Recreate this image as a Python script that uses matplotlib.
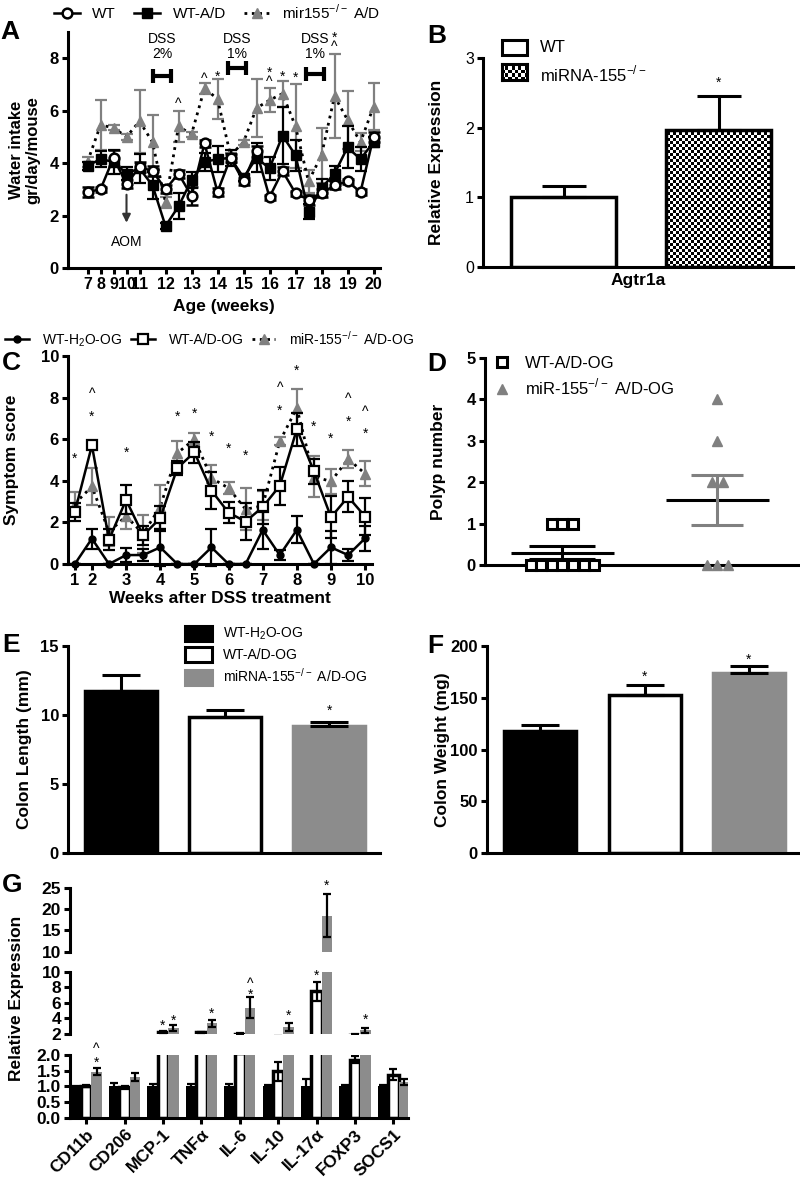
import numpy as np
import matplotlib
matplotlib.use("Agg")
import matplotlib.pyplot as plt
from matplotlib.lines import Line2D
from matplotlib.patches import Patch, Rectangle

plt.rcParams["font.family"] = ["Liberation Sans", "DejaVu Sans"]
plt.rcParams["mathtext.fontset"] = "custom"
plt.rcParams["mathtext.rm"] = "Liberation Sans"
plt.rcParams["mathtext.bf"] = "Liberation Sans:bold"

# ---- data ----------------------------------------------------------------
# A: water intake
ages_a = [7, 8, 9, 10, 11, 11.5, 12, 12.5, 13, 13.5, 14, 14.5, 15, 15.5, 16,
          16.5, 17, 17.5, 18, 18.5, 19, 19.5, 20]
wt_a = [2.9, 3.0, 4.2, 3.2, 3.85, 3.7, 3.0, 3.6, 2.75, 4.75, 2.9, 4.2, 3.3,
        4.45, 2.7, 3.7, 2.85, 2.6, 2.85, 3.15, 3.3, 2.9, 5.0]
wt_a_err = [0.2, 0.1, 0.3, 0.15, 0.2, 0.2, 0.15, 0.15, 0.35, 0.15, 0.15, 0.15,
            0.15, 0.2, 0.1, 0.15, 0.1, 0.2, 0.15, 0.15, 0.1, 0.1, 0.2]
wtad_a = [3.9, 4.15, 4.05, 3.6, 3.8, 3.15, 1.6, 2.35, 3.35, 4.05, 4.15, 4.2,
          3.45, 4.2, 3.8, 5.05, 4.3, 2.15, 3.05, 3.6, 4.6, 4.15, 4.8]
wtad_a_err = [0.15, 0.3, 0.45, 0.25, 0.55, 0.5, 0.1, 0.5, 0.3, 0.35, 0.5, 0.3,
              0.15, 0.55, 0.45, 1.1, 0.6, 0.3, 0.35, 0.3, 0.8, 0.45, 0.2]
mir_a = [4.05, 5.45, 5.35, 5.0, 5.6, 4.8, 2.5, 5.4, 5.1, 6.85, 6.45, 4.3, 4.8,
         6.1, 6.4, 6.65, 5.4, 3.3, 4.3, 6.55, 5.65, 4.8, 6.15]
mir_a_err = [0.2, 0.95, 0.1, 0.1, 1.2, 1.05, 0.2, 0.6, 0.1, 0.2, 0.75, 0.1, 0.1,
             1.1, 0.45, 0.5, 1.6, 0.45, 1.05, 1.6, 1.1, 0.35, 0.9]
marks_a = [(12.5, 6.4, "^"), (13.5, 7.35, "^"), (14, 7.47, "*"), (16, 7.62, "*"),
           (16, 7.24, "^"), (16.5, 7.47, "*"), (17, 7.43, "*"), (18.5, 8.95, "*"),
           (18.5, 8.57, "^")]

# B: Agtr1a
groups_b = ["WT", r"miRNA-155$^{-/-}$"]
vals_b = [1.0, 1.97]
err_b = [0.16, 0.48]

# C: symptom score
weeks_c = [1, 2, 2.5, 3, 3.5, 4, 4.5, 5, 5.5, 6, 6.5, 7, 7.5, 8, 8.5, 9, 9.5, 10]
h2o_c = [0, 1.22, 0, 0.43, 0.43, 0.8, 0, 0, 0.8, 0, 0, 1.64, 0.43, 1.64, 0, 0.8,
         0.43, 1.24]
h2o_c_err = [0, 0.48, 0, 0.35, 0.3, 0.9, 0, 0, 0.9, 0, 0, 0.9, 0.25, 0.65, 0, 0.8,
             0.3, 0.6]
wtad_c = [2.5, 5.7, 1.17, 3.08, 1.38, 2.2, 4.61, 5.37, 3.53, 2.47, 2.04, 2.74,
          3.76, 6.48, 4.45, 2.25, 3.23, 2.28]
wtad_c_err = [0.45, 0.15, 0.5, 0.7, 0.45, 0.6, 0.35, 0.5, 0.9, 0.5, 0.9, 0.8, 0.9,
              0.8, 0.6, 1.0, 0.75, 0.9]
mir_c = [2.9, 3.73, 1.55, 2.3, 1.45, 2.75, 5.33, 6.0, 4.13, 3.65, 2.63, 2.8, 5.9,
         7.5, 4.2, 3.97, 5.05, 4.34]
mir_c_err = [0.55, 0.9, 0.7, 0.6, 0.9, 1.05, 0.6, 0.3, 0.65, 0.3, 1.0, 0.7, 0.2,
             0.9, 1.0, 0.6, 0.45, 0.6]
marks_c = [(1, 5.25, "*"), (2, 8.39, "^"), (2, 7.28, "*"), (3, 5.54, "*"),
           (4.5, 7.28, "*"), (5, 7.42, "*"), (5.5, 6.31, "*"), (6, 5.73, "*"),
           (6.5, 5.4, "*"), (7.5, 8.67, "^"), (7.5, 7.57, "*"), (8, 9.49, "*"),
           (8.5, 6.8, "*"), (9, 6.22, "*"), (9.5, 8.14, "^"), (9.5, 7.04, "*"),
           (10, 7.52, "^"), (10, 6.46, "*")]

# D: polyp number per mouse
polyps_wt = [1, 1, 1, 0, 0, 0, 0, 0, 0, 0]
polyps_mir = [4, 3, 2, 2, 0, 0, 0]

# E / F: colon length and weight
groups_ef = [r"WT-H$_2$O-OG", "WT-A/D-OG", r"miRNA-155$^{-/-}$ A/D-OG"]
length_e = [11.75, 9.88, 9.22]
length_e_err = [1.15, 0.48, 0.3]
weight_f = [118, 152.5, 174]
weight_f_err = [6, 10, 6.5]

# G: gene expression
genes = ["CD11b", "CD206", "MCP-1", "TNFα", "IL-6", "IL-10", "IL-17α", "FOXP3", "SOCS1"]
g_h2o = [1.0, 1.0, 1.0, 1.0, 1.0, 1.0, 1.0, 1.0, 1.0]
g_h2o_err = [0.02, 0.1, 0.06, 0.08, 0.08, 0.03, 0.22, 0.05, 0.05]
g_wtad = [1.02, 0.97, 2.25, 2.2, 2.05, 1.48, 7.5, 1.85, 1.37]
g_wtad_err = [0.03, 0.05, 0.1, 0.08, 0.03, 0.3, 1.2, 0.12, 0.18]
g_mir = [1.47, 1.3, 2.75, 3.4, 5.4, 2.9, 18.5, 2.45, 1.15]
g_mir_err = [0.1, 0.13, 0.4, 0.45, 1.3, 0.5, 5.0, 0.3, 0.1]
# (gene, bar 0=H2O 1=WT-A/D 2=miR, segment 0=top 1=mid 2=bottom, y, symbol)
marks_g = [(0, 2, 2, 1.9, "*"), (0, 2, 2, 2.32, "^"), (2, 1, 1, 3.6, "*"),
           (2, 2, 1, 4.2, "*"), (3, 2, 1, 5.1, "*"), (4, 2, 1, 7.6, "*"),
           (4, 2, 1, 9.0, "^"), (5, 2, 1, 4.86, "*"), (6, 1, 1, 10.0, "*"),
           (6, 2, 0, 26.5, "*"), (7, 2, 1, 4.4, "*")]

# ---- helpers -------------------------------------------------------------
W, H = 800, 1179
GRAY = "#8c8c8c"
TRI = "#808080"
LW = 2.2
TICK = 12


def box(x0, y0, x1, y1):
    """pixel box (top-left origin) -> figure fraction rect"""
    return [x0 / W, 1 - y1 / H, (x1 - x0) / W, (y1 - y0) / H]


def style(ax, left=True, bottom=True):
    for s in ("top", "right"):
        ax.spines[s].set_visible(False)
    ax.spines["left"].set_visible(left)
    ax.spines["bottom"].set_visible(bottom)
    for s in ("left", "bottom"):
        ax.spines[s].set_linewidth(LW)
    ax.tick_params(width=LW, length=4.5, pad=2)


def yticks(ax, ticks, fmt="{:g}", bold=True, size=TICK):
    ax.set_yticks(ticks, [fmt.format(t) for t in ticks],
                  fontweight="bold" if bold else "normal", fontsize=size)


def mark(ax, x, y, s, size=10):
    ax.annotate(s, (x, y), xytext=(0, -3), textcoords="offset points",
                ha="center", va="center", fontsize=size, annotation_clip=False)


def swarm(vals, step):
    vals = np.asarray(vals, float)
    off = np.zeros_like(vals)
    for v in np.unique(vals):
        idx = np.where(vals == v)[0]
        off[idx] = (np.arange(len(idx)) - (len(idx) - 1) / 2) * step
    return off


def letter(x, y, s):
    fig.text(x / W, 1 - y / H, s, fontsize=19, fontweight="bold", ha="center", va="center")


fig = plt.figure(figsize=(W / 100, H / 100), dpi=100)

# ---- A -------------------------------------------------------------------
ax = fig.add_axes(box(68, 32, 380, 268))
style(ax)
xa = np.arange(len(ages_a))
ax.errorbar(xa, mir_a, yerr=mir_a_err, fmt=":^", color="black", lw=2, ms=7,
            mfc=TRI, mec=TRI, ecolor=TRI, elinewidth=1.6, capsize=4, capthick=1.6, zorder=2)
ax.errorbar(xa, wtad_a, yerr=wtad_a_err, fmt="-s", color="black", lw=1.8, ms=6.5,
            elinewidth=1.6, capsize=4, capthick=1.6, zorder=3)
ax.errorbar(xa, wt_a, yerr=wt_a_err, fmt="-o", color="black", lw=1.8, ms=7, mfc="white",
            mew=1.8, elinewidth=1.6, capsize=4, capthick=1.6, zorder=4)
ax.set_xlim(-1.5, 22.5)
ax.set_ylim(0, 9)
yticks(ax, [0, 2, 4, 6, 8])
ta = [i for i, a in enumerate(ages_a) if a == int(a)]
ax.set_xticks(ta, [str(int(ages_a[i])) for i in ta], fontweight="bold", fontsize=11.5)
ax.set_xlabel("Age (weeks)", fontsize=12.5, fontweight="bold")
ax.xaxis.set_label_coords(0.5, -0.13)
ax.set_ylabel("Water intake\ngr/day/mouse", fontsize=12, fontweight="bold", linespacing=1.1)
ax.yaxis.set_label_coords(-0.09, 0.5)
for txt, xc, half, yb in [("DSS\n2%", 5.75, 0.7, 7.31), ("DSS\n1%", 11.5, 0.7, 7.62),
                          ("DSS\n1%", 17.5, 0.7, 7.39)]:
    ax.text(xc, 8.45, txt, ha="center", va="center", fontsize=10, linespacing=1.1)
    ax.errorbar(xc, yb, xerr=half, fmt="none", ecolor="black", elinewidth=3,
                capsize=5, capthick=3)
aom = ages_a.index(10)
ax.annotate("", xy=(aom, 1.62), xytext=(aom, 2.9),
            arrowprops=dict(arrowstyle="-|>", color="#333333", lw=1.5, mutation_scale=12))
ax.text(aom, 1.0, "AOM", ha="center", va="center", fontsize=10)
for age, yv, s in marks_a:
    mark(ax, ages_a.index(age), yv, s)
fig.legend([Line2D([], [], color="black", marker="o", mfc="white", ms=7, mew=1.8, lw=1.8),
            Line2D([], [], color="black", marker="s", ms=6.5, lw=1.8),
            Line2D([], [], color="black", ls=":", marker="^", mfc=TRI, mec=TRI, ms=7, lw=2)],
           ["WT", "WT-A/D", r"mir155$^{-/-}$ A/D"], loc="center left",
           bbox_to_anchor=(54 / W, 1 - 12 / H), ncol=3, frameon=False, fontsize=11,
           handlelength=1.7, handletextpad=0.8, columnspacing=1.2, borderpad=0,
           borderaxespad=0)
letter(10, 32, "A")

# ---- B -------------------------------------------------------------------
ax = fig.add_axes(box(483, 58, 793, 267))
style(ax)
xb = np.arange(len(vals_b))
bars = ax.bar(xb, vals_b, width=0.68, color=["white", "none"], edgecolor="black",
              linewidth=2.5, zorder=3)
ax.set_xlim(-0.52, 1.48)
ax.set_ylim(0, 3)
rows, cols = 70, 103
checker = np.add.outer(np.arange(rows), np.arange(cols)) % 2
im = ax.imshow(checker, cmap="gray", extent=(-0.52, 1.48, 0, 3), aspect="auto",
               interpolation="nearest", zorder=2)
im.set_clip_path(bars[1])
ax.errorbar(xb, vals_b, yerr=[np.zeros(len(err_b)), err_b], fmt="none", ecolor="black",
            elinewidth=2.2, capsize=16, capthick=2.2, zorder=4)
mark(ax, 1, 2.71, "*")
ax.set_xticks([])
yticks(ax, [0, 1, 2, 3], bold=False, size=11.5)
ax.set_xlabel("Agtr1a", fontsize=12.5, fontweight="bold")
ax.xaxis.set_label_coords(0.5, -0.03)
ax.set_ylabel("Relative Expression", fontsize=12.5, fontweight="bold")
ax.yaxis.set_label_coords(-0.125, 0.5)
ax.add_patch(Rectangle((0.061, 1.014), 0.081, 0.072, transform=ax.transAxes,
                       facecolor="white", edgecolor="black", lw=2.2, clip_on=False))
lax = ax.inset_axes([0.061, 0.895, 0.081, 0.077])
lax.imshow(np.add.outer(np.arange(5), np.arange(8)) % 2, cmap="gray", aspect="auto",
           interpolation="nearest")
lax.set_xticks([])
lax.set_yticks([])
for sp in lax.spines.values():
    sp.set_linewidth(2.2)
ax.text(0.184, 1.05, groups_b[0], transform=ax.transAxes, va="center", fontsize=12)
ax.text(0.184, 0.925, groups_b[1], transform=ax.transAxes, va="center", fontsize=12)
letter(437, 36, "B")

# ---- C -------------------------------------------------------------------
ax = fig.add_axes(box(68, 356, 372, 564))
style(ax)
xc = np.arange(len(weeks_c))
ax.errorbar(xc, mir_c, yerr=mir_c_err, fmt=":^", color="black", lw=2, ms=7,
            mfc=TRI, mec=TRI, ecolor=TRI, elinewidth=1.6, capsize=4, capthick=1.6, zorder=2)
ax.errorbar(xc, wtad_c, yerr=wtad_c_err, fmt="-s", color="black", lw=1.8, ms=7.5,
            mfc="white", mew=1.6, elinewidth=1.6, capsize=4, capthick=1.6, zorder=3)
ax.errorbar(xc, h2o_c, yerr=h2o_c_err, fmt="-o", color="black", lw=1.8, ms=5,
            elinewidth=1.6, capsize=4, capthick=1.6, zorder=4, clip_on=False)
ax.set_xlim(-0.4, 17.4)
ax.set_ylim(0, 10)
yticks(ax, [0, 2, 4, 6, 8, 10])
tc = [i for i, w in enumerate(weeks_c) if w == int(w)]
ax.set_xticks(tc, [str(int(weeks_c[i])) for i in tc], fontweight="bold", fontsize=TICK)
ax.set_xlabel("Weeks after DSS treatment", fontsize=12.5, fontweight="bold")
ax.xaxis.set_label_coords(0.5, -0.13)
ax.set_ylabel("Symptom score", fontsize=12.5, fontweight="bold")
ax.yaxis.set_label_coords(-0.16, 0.5)
for wk, yv, s in marks_c:
    mark(ax, weeks_c.index(wk), yv, s)
fig.legend([Line2D([], [], color="black", marker="o", ms=5, lw=1.8),
            Line2D([], [], color="black", marker="s", mfc="white", ms=7.5, mew=1.6, lw=1.8),
            Line2D([], [], color="black", ls=":", marker="^", mfc=TRI, mec=TRI, ms=7, lw=2)],
           [r"WT-H$_2$O-OG", "WT-A/D-OG", r"miR-155$^{-/-}$ A/D-OG"], loc="center left",
           bbox_to_anchor=(5 / W, 1 - 339 / H), ncol=3, frameon=False, fontsize=10,
           handlelength=1.7, handletextpad=1.0, columnspacing=0.6, borderpad=0,
           borderaxespad=0)
letter(11, 363, "C")

# ---- D -------------------------------------------------------------------
ax = fig.add_axes(box(485, 358, 798, 565))
style(ax)
for i, (vals, mk, mfc, mec, ecol, cap) in enumerate([
        (polyps_wt, "s", "white", "black", "black", 24),
        (polyps_mir, "^", TRI, TRI, TRI, 19)]):
    vals = np.asarray(vals, float)
    ax.plot(i + swarm(vals, 0.068), vals, ls="none", marker=mk, mfc=mfc, mec=mec,
            ms=6.5, mew=2.2 if mk == "s" else 1, clip_on=False, zorder=3)
    mean = vals.mean()
    sem = vals.std(ddof=1) / np.sqrt(len(vals))
    ax.hlines(mean, i - 0.33, i + 0.33, color="black", lw=LW, zorder=4)
    ax.errorbar(i, mean, yerr=sem, fmt="none", ecolor=ecol, elinewidth=LW, capsize=cap,
                capthick=LW, zorder=4)
ax.set_xlim(-0.5, 1.52)
ax.set_ylim(0, 5)
ax.set_xticks([])
yticks(ax, [0, 1, 2, 3, 4, 5])
ax.set_ylabel("Polyp number", fontsize=12.5, fontweight="bold")
ax.yaxis.set_label_coords(-0.125, 0.5)
ax.legend([Line2D([], [], ls="none", marker="s", mfc="white", mec="black", ms=6.5, mew=2.2),
           Line2D([], [], ls="none", marker="^", mfc=TRI, mec=TRI, ms=6.5)],
          ["WT-A/D-OG", r"miR-155$^{-/-}$ A/D-OG"], loc="upper left",
          bbox_to_anchor=(495 / W, 1 - 356 / H), bbox_transform=fig.transFigure,
          frameon=False, fontsize=12, handlelength=0.85, handletextpad=0.95,
          labelspacing=0.35, borderpad=0, borderaxespad=0)
letter(437, 364, "D")

# ---- E / F ---------------------------------------------------------------
bar_colors = ["black", "white", GRAY]
bar_edges = ["black", "black", GRAY]
for rect, vals, errs, ylim, ticks, ylab, stars, lab_x, pos in [
        ((68, 646, 380, 853), length_e, length_e_err, 15, [0, 5, 10, 15],
         "Colon Length (mm)", [(2, 10.6)], -0.115, (11, 645, "E")),
        ((487, 646, 800, 853), weight_f, weight_f_err, 200, [0, 50, 100, 150, 200],
         "Colon Weight (mg)", [(1, 174), (2, 191)], -0.118, (435, 646, "F"))]:
    ax = fig.add_axes(box(*rect))
    style(ax)
    xe = np.arange(len(vals))
    ax.bar(xe, vals, width=0.69, color=bar_colors, edgecolor=bar_edges, linewidth=2.5,
           zorder=2)
    ax.errorbar(xe, vals, yerr=[np.zeros(len(errs)), errs], fmt="none", ecolor="black",
                elinewidth=2.2, capsize=14, capthick=2.2, zorder=3)
    for xs, ys in stars:
        mark(ax, xs, ys, "*")
    ax.set_xlim(-0.51, 2.49)
    ax.set_ylim(0, ylim)
    ax.set_xticks([])
    yticks(ax, ticks)
    ax.set_ylabel(ylab, fontsize=12.5, fontweight="bold")
    ax.yaxis.set_label_coords(lab_x, 0.5)
    letter(*pos)
    if pos[2] == "E":
        ax.legend([Patch(facecolor=c, edgecolor=e, lw=2.2) for c, e in zip(bar_colors, bar_edges)],
                  groups_ef, loc="upper left", bbox_to_anchor=(185 / W, 1 - 626 / H),
                  bbox_transform=fig.transFigure, frameon=False, fontsize=10,
                  handlelength=1.95, handleheight=1.25, handletextpad=0.8,
                  labelspacing=0.35, borderpad=0, borderaxespad=0)

# ---- G -------------------------------------------------------------------
segments = [(10, 25, [10, 15, 20, 25], "{:g}"), (2, 10, [2, 4, 6, 8, 10], "{:g}"),
            (0, 2, [0, 0.5, 1, 1.5, 2], "{:.1f}")]
seg_px = [(888, 951.7), (971.7, 1034), (1055, 1117.7)]
xg = np.arange(len(genes))
bw = 0.27
series = [(g_h2o, g_h2o_err, "black", "black", 0), (g_wtad, g_wtad_err, "white", "black", 2.5),
          (g_mir, g_mir_err, GRAY, GRAY, 0)]
g_axes = []
for k, ((lo, hi, ticks, fmt), (y0, y1)) in enumerate(zip(segments, seg_px)):
    ax = fig.add_axes(box(70, y0, 408, y1))
    last = k == len(segments) - 1
    style(ax, bottom=last)
    for j, (vals, errs, fc, ec, lw) in enumerate(series):
        xs = xg + (j - 1) * bw
        ax.bar(xs, vals, bw, color=fc, edgecolor=ec, linewidth=lw, zorder=2)
        ax.errorbar(xs, vals, yerr=errs, fmt="none", ecolor="black", elinewidth=1.6,
                    capsize=3, capthick=1.6, zorder=3)
    ax.set_xlim(-0.42, 8.38)
    ax.set_ylim(lo, hi)
    yticks(ax, ticks, fmt=fmt, size=12.5)
    if last:
        ax.set_xticks(xg, genes, rotation=45, ha="right", rotation_mode="anchor",
                      fontweight="bold", fontsize=12.5)
    else:
        ax.set_xticks([])
    g_axes.append(ax)
for gi, bj, seg, yv, s in marks_g:
    mark(g_axes[seg], gi + (bj - 1) * bw, yv, s)
fig.text(17 / W, 1 - 998 / H, "Relative Expression", rotation=90, ha="center",
         va="center", fontsize=12.5, fontweight="bold")
letter(12, 885, "G")

fig.savefig("out.png", dpi=100)
